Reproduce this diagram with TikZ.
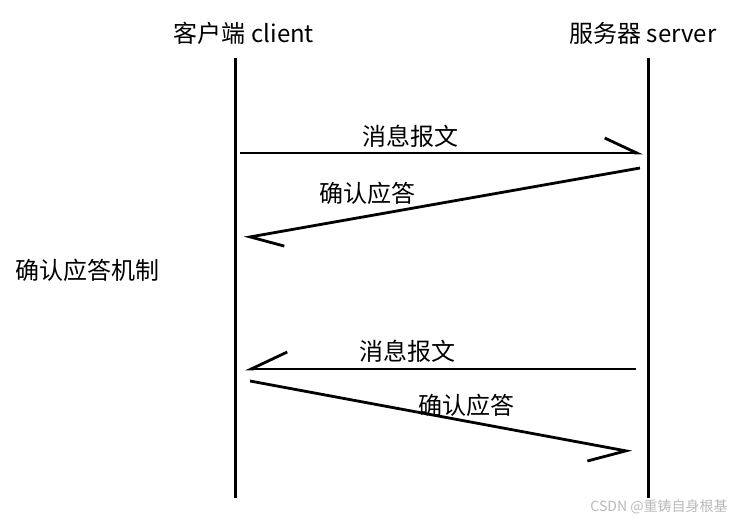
\documentclass[tikz,border=0pt]{standalone}
\usepackage{fontspec}
\setmainfont{Noto Sans CJK SC}
\usetikzlibrary{arrows.meta}
\tikzstyle{party} = [
    inner sep=0pt,
    font=\fontsize{24}{28}\selectfont
]
\tikzstyle{label} = [
    inner sep=0pt,
    font=\fontsize{24}{28}\selectfont
]
\tikzstyle{lifeline} = [line width=3pt]
\tikzstyle{arrowl} = [line width=2.8pt,
    -{Straight Barb[harpoon, length=32pt, width=30pt]}]
\tikzstyle{arrowr} = [line width=2.8pt,
    -{Straight Barb[harpoon, swap, length=36pt, width=34pt]}]

\begin{document}
\begin{tikzpicture}[x=1pt, y=-1pt]
\useasboundingbox (0,0) rectangle (732,520);

% parties
\node (client) [party] at (244,33) {客户端 client};
\node (server) [party] at (643,33) {服务器 server};

\coordinate (ctop) at (235,58);
\coordinate (cbot) at (235,498);
\coordinate (stop) at (648,58);
\coordinate (sbot) at (648,498);

\draw [lifeline] (ctop) -- (cbot);
\draw [lifeline] (stop) -- (sbot);

% message ends
\coordinate (c1) at (240,153);
\coordinate (s1) at (643,153);
\coordinate (s2) at (640,168);
\coordinate (c2) at (244,238);
\coordinate (s3) at (636,369);
\coordinate (c3) at (245,369);
\coordinate (c4) at (250,381);
\coordinate (s4) at (632,452);

\draw [arrowl] (c1) -- (s1);
\draw [arrowl] (s2) -- (c2);
\draw [arrowr] (s3) -- (c3);
\draw [arrowr] (c4) -- (s4);

% labels
\node (msg1) [label] at (410,136) {消息报文};
\node (ack1) [label] at (367,193) {确认应答};
\node (msg2) [label] at (407,351) {消息报文};
\node (ack2) [label] at (466,405) {确认应答};
\node (mech) [label, anchor=west] at (15,270) {确认应答机制};

\node (mark) [inner sep=0pt, text=gray!55, font=\fontsize{14}{16}\selectfont]
    at (659,507) {CSDN @重铸自身根基};

\end{tikzpicture}
\end{document}
